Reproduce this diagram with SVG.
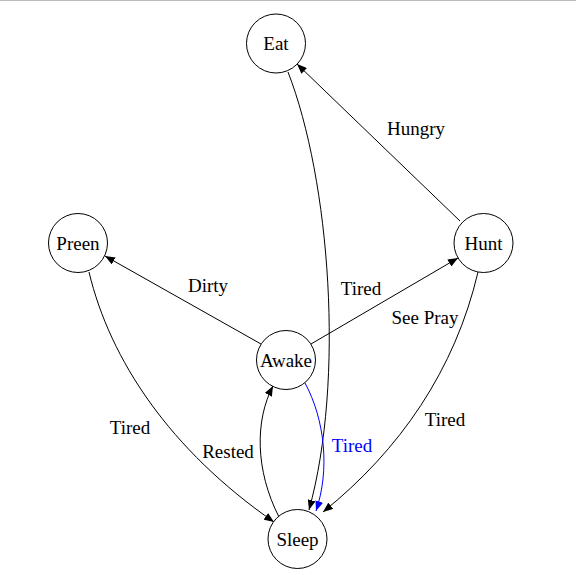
<svg xmlns="http://www.w3.org/2000/svg" width="576" height="575" viewBox="0 0 576 575">
<style>
.node circle{fill:#fff;stroke:#000;stroke-width:1}
text{font-family:"Liberation Serif",Tinos,"DejaVu Serif",serif;font-size:19px;fill:#000}
.edge{fill:none;stroke:#000;stroke-width:1}
.blue{stroke:#0000ff}
text.bl{fill:#0000ff}
</style>
<defs>
<marker id="ah" viewBox="0 0 10 8" refX="10" refY="4" markerWidth="10" markerHeight="8" orient="auto" markerUnits="userSpaceOnUse">
<path d="M0,0 L10,4 L0,8 Z" fill="#000"/>
</marker>
<marker id="ahb" viewBox="0 0 10 8" refX="10" refY="4" markerWidth="10" markerHeight="8" orient="auto" markerUnits="userSpaceOnUse">
<path d="M0,0 L10,4 L0,8 Z" fill="#0000ff"/>
</marker>
</defs>
<rect x="0" y="0" width="576" height="575" fill="#fff"/>
<line x1="0" y1="0.5" x2="576" y2="0.5" stroke="#bbb" stroke-width="1"/>
<g id="edges">
<path class="edge" d="M288,72 C330,180 345,380 309,510" marker-end="url(#ah)"/>
<text x="361" y="295" text-anchor="middle" font-family="Liberation Serif, serif">Tired</text>
<path class="edge" d="M460,221 L297,64" marker-end="url(#ah)"/>
<text x="416" y="135" text-anchor="middle" font-family="Liberation Serif, serif">Hungry</text>
<path class="edge" d="M261,344 L105,256" marker-end="url(#ah)"/>
<text x="208" y="292" text-anchor="middle" font-family="Liberation Serif, serif">Dirty</text>
<path class="edge" d="M311,344 L458,258" marker-end="url(#ah)"/>
<text x="425" y="324" text-anchor="middle" font-family="Liberation Serif, serif">See Pray</text>
<path class="edge" d="M89,272 C110,360 170,450 274,522" marker-end="url(#ah)"/>
<text x="130" y="434" text-anchor="middle" font-family="Liberation Serif, serif">Tired</text>
<path class="edge" d="M478,272 C455,370 400,450 323,512" marker-end="url(#ah)"/>
<text x="445" y="426" text-anchor="middle" font-family="Liberation Serif, serif">Tired</text>
<path class="edge" d="M279,517 C255,470 255,420 273,386" marker-end="url(#ah)"/>
<text x="228" y="458" text-anchor="middle" font-family="Liberation Serif, serif">Rested</text>
<path class="edge blue" d="M305,383 C325,420 330,470 316,511" marker-end="url(#ahb)"/>
<text class="bl" x="352" y="452" text-anchor="middle" font-family="Liberation Serif, serif">Tired</text>
</g>
<g id="Eat" class="node"><circle cx="276" cy="43.5" r="29.5"/><text x="276" y="50" text-anchor="middle" font-family="Liberation Serif, serif">Eat</text></g>
<g id="Preen" class="node"><circle cx="78" cy="243" r="29.5"/><text x="78" y="249.5" text-anchor="middle" font-family="Liberation Serif, serif">Preen</text></g>
<g id="Hunt" class="node"><circle cx="483.5" cy="243" r="29.5"/><text x="483.5" y="249.5" text-anchor="middle" font-family="Liberation Serif, serif">Hunt</text></g>
<g id="Awake" class="node"><circle cx="286" cy="360" r="29.5"/><text x="286" y="366.5" text-anchor="middle" font-family="Liberation Serif, serif">Awake</text></g>
<g id="Sleep" class="node"><circle cx="297.5" cy="539" r="29.5"/><text x="297.5" y="545.5" text-anchor="middle" font-family="Liberation Serif, serif">Sleep</text></g>
</svg>
